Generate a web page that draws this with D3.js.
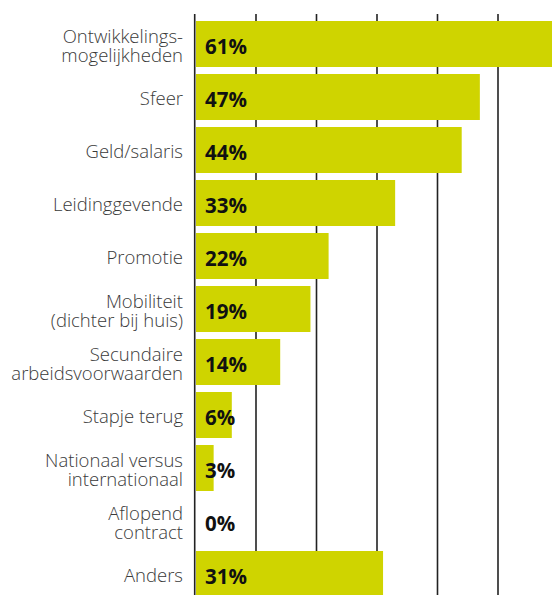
<!DOCTYPE html>
<html>
<head>
<meta charset="utf-8">
<script src="https://cdn.jsdelivr.net/npm/d3@7"></script>
<style>
  html, body { margin: 0; padding: 0; background: #fff; }
  svg { display: block; }
  text { -webkit-font-smoothing: antialiased; }
</style>
</head>
<body>
<svg id="chart" width="552" height="595"></svg>
<script>
const categories = [
  ["Ontwikkelings-", "mogelijkheden"],
  ["Sfeer"],
  ["Geld/salaris"],
  ["Leidinggevende"],
  ["Promotie"],
  ["Mobiliteit", "(dichter bij huis)"],
  ["Secundaire", "arbeidsvoorwaarden"],
  ["Stapje terug"],
  ["Nationaal versus", "internationaal"],
  ["Aflopend", "contract"],
  ["Anders"]
];
const values = [61, 47, 44, 33, 22, 19, 14, 6, 3, 0, 31];
const valueLabels = ["61%", "47%", "44%", "33%", "22%", "19%", "14%", "6%", "3%", "0%", "31%"];
const gridTicks = [10, 20, 30, 40, 50];

const svg = d3.select("#chart");
const x0 = 195.5;
const x = d3.scaleLinear().domain([0, 10]).range([x0, x0 + 60.5]);
const step = 53, barH = 46;
const y = d3.scaleBand()
  .domain(d3.range(categories.length))
  .range([21, 21 + step * categories.length])
  .paddingInner((step - barH) / step)
  .paddingOuter(0)
  .align(0);
const yTop = i => 21 + step * i;

// gridlines
svg.append("g").selectAll("line").data(gridTicks).join("line")
  .attr("x1", d => x(d)).attr("x2", d => x(d))
  .attr("y1", 14).attr("y2", 595)
  .attr("stroke", "#222").attr("stroke-width", 1.6);

// bars
svg.append("g").selectAll("rect").data(values).join("rect")
  .attr("x", x(0) + 0.5)
  .attr("y", (d, i) => yTop(i))
  .attr("width", d => Math.max(0, x(d) - x(0) - 0.5))
  .attr("height", barH)
  .attr("fill", "#cfd400");

// axis line
svg.append("line")
  .attr("x1", x0 - 0.8).attr("x2", x0 - 0.8)
  .attr("y1", 14).attr("y2", 595)
  .attr("stroke", "#222").attr("stroke-width", 1.6);

// category labels
const lab = svg.append("g")
  .attr("font-family", "'Open Sans', sans-serif")
  .attr("font-weight", 300)
  .attr("font-size", 18.5)
  .attr("fill", "#3a3a3a")
  .attr("text-anchor", "end");
categories.forEach((lines, i) => {
  const c = yTop(i) + barH / 2;
  const t = lab.append("text").attr("x", 183);
  if (lines.length === 1) {
    t.append("tspan").attr("x", 183).attr("y", c + 7.5).text(lines[0]);
  } else {
    t.append("tspan").attr("x", 183).attr("y", c - 1).text(lines[0]);
    t.append("tspan").attr("x", 183).attr("y", c + 18).text(lines[1]);
  }
});

// value labels
svg.append("g")
  .attr("font-family", "'Open Sans', sans-serif")
  .attr("font-weight", 700)
  .attr("font-size", 20.5)
  .attr("fill", "#111")
  .selectAll("text").data(valueLabels).join("text")
  .attr("x", 205)
  .attr("y", (d, i) => yTop(i) + barH / 2 + 9.5)
  .text(d => d);
</script>
</body>
</html>
